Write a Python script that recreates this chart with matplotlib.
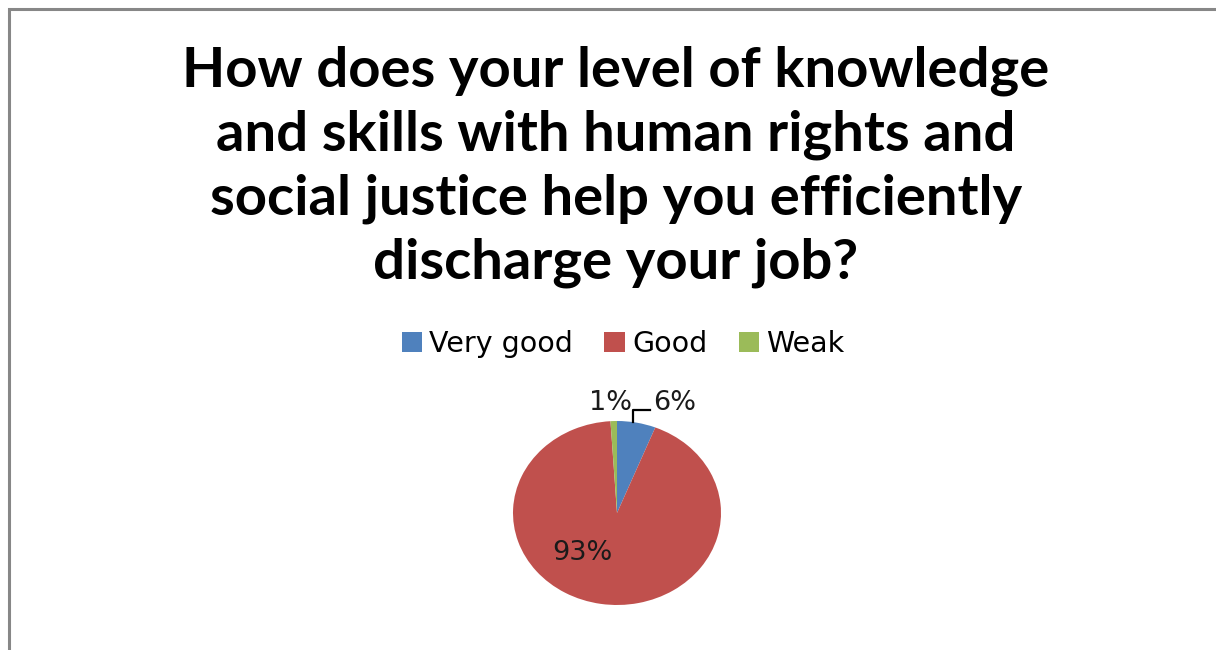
import matplotlib
matplotlib.use("Agg")
import matplotlib.pyplot as plt
from matplotlib.patches import Rectangle, Patch
from matplotlib.lines import Line2D
import numpy as np

# Survey responses
categories = ["Very good", "Good", "Weak"]
shares = [6, 93, 1]
colors = ["#4F81BD", "#C0504D", "#9BBB59"]
title_lines = [
    "How does your level of knowledge",
    "and skills with human rights and",
    "social justice help you efficiently",
    "discharge your job?",
]

W, H = 1216, 650
fig = plt.figure(figsize=(W / 100, H / 100), dpi=100)
fig.patch.set_facecolor("white")


def fx(px):
    return px / W


def fy(py):
    return 1 - py / H


# Chart area frame (runs off the right and bottom edges)
fig.patches.append(Rectangle((fx(8.5), fy(700)), fx(1300), (700 - 9.5) / H,
                             transform=fig.transFigure, fill=False,
                             edgecolor="#878787", linewidth=2.2))

# Title
for i, line in enumerate(title_lines):
    fig.text(fx(616), fy(86 + 64.3 * i), line, ha="center", va="baseline",
             fontsize=40.5, fontweight="bold", family="Lato", color="black")

# Legend
handles = [Patch(facecolor=c, edgecolor="none") for c in colors]
fig.legend(handles, categories, loc="center", bbox_to_anchor=(fx(623), fy(344)),
           ncol=3, frameon=False, handlelength=0.72, handleheight=0.72,
           handletextpad=0.25, columnspacing=1.1,
           prop={"family": "DejaVu Sans", "size": 20.5})

# Pie (drawn as a slightly flattened ellipse)
ax = fig.add_axes([fx(513), fy(605), fx(721) - fx(513), (605 - 421) / H])
wedges, _ = ax.pie(shares, colors=colors, startangle=90, counterclock=False,
                   wedgeprops=dict(linewidth=0))
ax.set_aspect("auto")
ax.set_xlim(-1, 1)
ax.set_ylim(-1, 1)
ax.axis("off")

fmt = lambda v: f"{v}%"
lab_kw = dict(fontsize=19.5, family="DejaVu Sans", color="#1a1a1a",
              ha="center", va="center", clip_on=False)
ax.text(-0.33, -0.43, fmt(shares[1]), **lab_kw)
ax.text(0.55, 1.2, fmt(shares[0]), **lab_kw)
ax.text(-0.06, 1.2, fmt(shares[2]), **lab_kw)

# Leader line for the small "Very good" slice
w0 = wedges[0]
mid = np.deg2rad((w0.theta1 + w0.theta2) / 2)
x0 = 0.82 * np.cos(mid)
ax.add_line(Line2D([x0, x0, 0.32], [0.99, 1.12, 1.12], color="black",
                   linewidth=1.6, clip_on=False))

fig.savefig("out.png", dpi=100, facecolor="white")
